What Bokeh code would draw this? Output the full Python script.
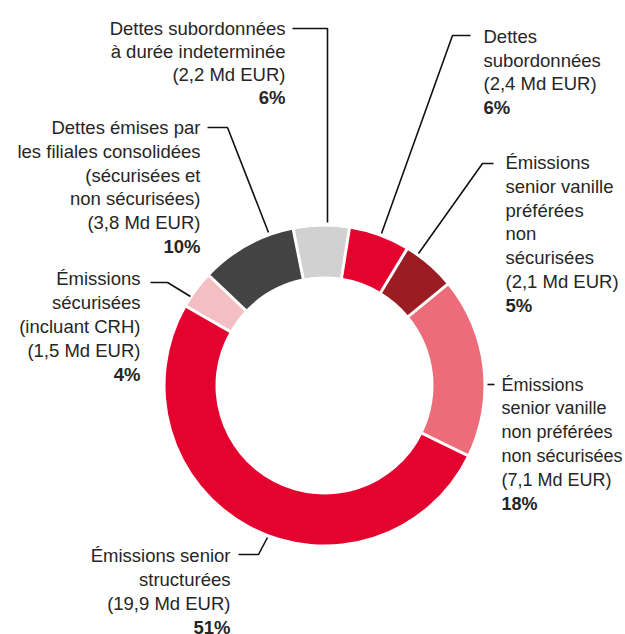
import math
from bokeh.plotting import figure
from bokeh.models import Range1d
from bokeh.core.properties import value
from bokeh.embed import file_html
from bokeh.resources import INLINE

# ---- data ----
categories = [
    "Dettes subordonnées",
    "Émissions senior vanille préférées non sécurisées",
    "Émissions senior vanille non préférées non sécurisées",
    "Émissions senior structurées",
    "Émissions sécurisées (incluant CRH)",
    "Dettes émises par les filiales consolidées",
    "Dettes subordonnées à durée indeterminée",
]
values_md_eur = [2.4, 2.1, 7.1, 19.9, 1.5, 3.8, 2.2]
colors = ["#E4032E", "#9B1C23", "#EC6D79", "#E4032E", "#F4BFC2", "#434343", "#D1D1D1"]
label_lines = [
    ["Dettes", "subordonnées"],
    ["Émissions", "senior vanille", "préférées", "non", "sécurisées"],
    ["Émissions", "senior vanille", "non préférées", "non sécurisées"],
    ["Émissions senior", "structurées"],
    ["Émissions", "sécurisées", "(incluant CRH)"],
    ["Dettes émises par", "les filiales consolidées", "(sécurisées et", "non sécurisées)"],
    ["Dettes subordonnées", "à durée indeterminée"],
]

# ---- layout (screen pixel coordinates) ----
W, H = 625, 634
def Y(sy):
    return H - sy

CX, CY = 324, 385
R_IN, R_OUT = 109, 159
START_CW_DEG = 9.0
FONT = value("Liberation Sans")
TXT_COLOR = "#262626"

# label anchors: x, align, first-line y, line step, font size
label_pos = [
    (483, "left", 36, 23.5, "18.5px"),
    (505, "left", 162, 23.8, "18.5px"),
    (501, "left", 384, 23.8, "18px"),
    (230, "right", 555, 24.0, "18.5px"),
    (140, "right", 278, 24.0, "18.5px"),
    (200, "right", 127, 23.8, "18.5px"),
    (285, "right", 28, 23.1, "18.5px"),
]
leaders = [
    [(470, 35), (452, 35), (381, 233)],
    [(493, 163), (482, 163), (418, 253)],
    [(487, 384), (494, 384)],
    [(238, 554), (258, 554), (267, 537)],
    [(150, 282), (167, 282), (190, 296)],
    [(207, 127), (227, 127), (268, 232)],
    [(292, 28), (327, 28), (327, 222)],
]

p = figure(width=W, height=H, output_backend="svg", toolbar_location=None,
           x_range=Range1d(0, W), y_range=Range1d(0, H),
           min_border=0, outline_line_color=None)
p.axis.visible = False
p.grid.visible = False
p.background_fill_color = "white"
p.border_fill_color = "white"

total = sum(values_md_eur)
cw = START_CW_DEG
starts, ends, bounds = [], [], []
for v in values_md_eur:
    a0 = math.radians(cw)
    cw += v / total * 360.0
    a1 = math.radians(cw)
    starts.append(math.pi / 2 - a0)
    ends.append(math.pi / 2 - a1)
    bounds.append(a0)

p.annular_wedge(x=CX, y=Y(CY), inner_radius=R_IN, outer_radius=R_OUT,
                start_angle=starts, end_angle=ends, direction="clock",
                fill_color=colors, line_color=None)

# white separators
x0s, y0s, x1s, y1s = [], [], [], []
for a in bounds:
    x0s.append(CX + (R_IN - 3) * math.sin(a)); y0s.append(Y(CY) + (R_IN - 3) * math.cos(a))
    x1s.append(CX + (R_OUT + 3) * math.sin(a)); y1s.append(Y(CY) + (R_OUT + 3) * math.cos(a))
p.segment(x0=x0s, y0=y0s, x1=x1s, y1=y1s, line_color="white", line_width=3)

# leaders
p.multi_line(xs=[[pt[0] for pt in l] for l in leaders],
             ys=[[Y(pt[1]) for pt in l] for l in leaders],
             line_color="#111111", line_width=1.6)

# labels
for i, lines in enumerate(label_lines):
    x, align, y0, step, fs = label_pos[i]
    amount = "(" + f"{values_md_eur[i]:.1f}".replace(".", ",") + " Md EUR)"
    pct = f"{round(values_md_eur[i] / total * 100)}%"
    normal = lines + [amount]
    p.text(x=[x] * len(normal), y=[Y(y0 + k * step) for k in range(len(normal))],
           text=normal, text_align=align, text_baseline="middle",
           text_font=FONT, text_font_size=fs, text_color=TXT_COLOR)
    p.text(x=[x], y=[Y(y0 + len(normal) * step)], text=[pct], text_align=align,
           text_baseline="middle", text_font=FONT, text_font_size=fs,
           text_font_style="bold", text_color=TXT_COLOR)

open("out.html", "w").write(file_html(p, INLINE))
